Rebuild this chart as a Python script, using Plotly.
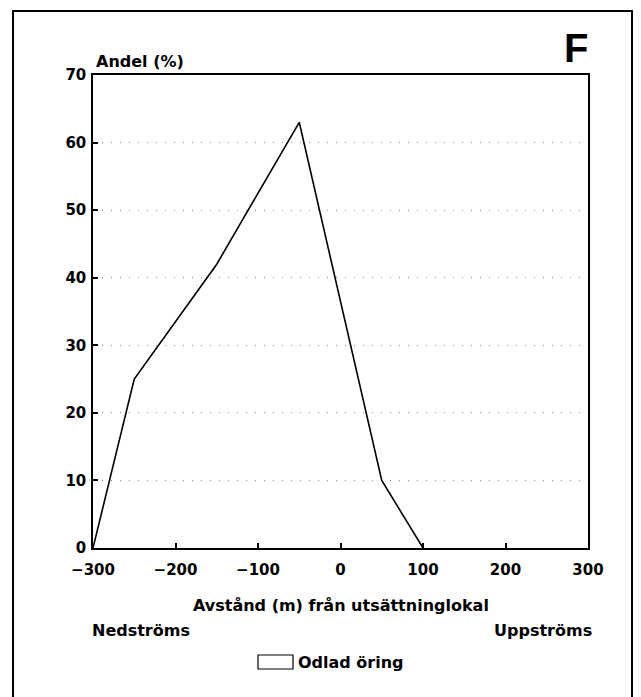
import plotly.graph_objects as go

distance = [-300, -250, -150, -50, 50, 100]
share = [0, 25, 42, 63, 10, 0]
x_ticks = [-300, -200, -100, 0, 100, 200, 300]
y_ticks = [0, 10, 20, 30, 40, 50, 60, 70]
series_name = "Odlad öring"

FONT = "DejaVu Sans"
PL, PR, PT, PB = 93, 588, 75, 548
PW, PH = PR - PL, PB - PT


def px(xpix):
    return (xpix - PL) / PW


def py(ypix):
    return (PB - ypix) / PH


fig = go.Figure()
fig.add_trace(go.Scatter(
    x=distance, y=share, mode="lines",
    line=dict(color="black", width=1.6),
    name=series_name, showlegend=False,
))

axis_common = dict(
    showline=True, linecolor="black", linewidth=1.5, mirror=True,
    ticks="inside", ticklen=5, tickwidth=1.5, tickcolor="black",
    tickfont=dict(family=FONT, size=15, color="black", weight="bold"),
    zeroline=False,
)

fig.update_xaxes(
    range=[-300, 300], tickvals=x_ticks,
    ticktext=[str(v).replace("-", "\u2212") for v in x_ticks],
    showgrid=False, ticklabelstandoff=7, **axis_common,
)
fig.update_yaxes(
    range=[0, 70], tickvals=y_ticks,
    showgrid=True, gridcolor="#888", gridwidth=1, griddash="1px,8px",
    ticklabelstandoff=2,
    **axis_common,
)

bold = dict(family=FONT, size=16, color="black", weight="bold")

fig.add_annotation(text="Andel (%)", xref="paper", yref="paper", x=px(94), y=py(62),
                   xanchor="left", yanchor="middle", showarrow=False, font=bold)
fig.add_annotation(text="F", xref="paper", yref="paper", x=px(590), y=py(48),
                   xanchor="right", yanchor="middle", showarrow=False,
                   font=dict(family="Liberation Sans", size=40, color="black", weight="bold"))
fig.add_annotation(text="Avstånd (m) från utsättninglokal", xref="paper", yref="paper",
                   x=0.5, y=py(605), xanchor="center", yanchor="middle",
                   showarrow=False, font=bold)
fig.add_annotation(text="Nedströms", xref="paper", yref="paper",
                   x=px(90), y=py(630), xanchor="left", yanchor="middle",
                   showarrow=False, font=bold)
fig.add_annotation(text="Uppströms", xref="paper", yref="paper",
                   x=px(594), y=py(630), xanchor="right", yanchor="middle",
                   showarrow=False, font=bold)
# legend
fig.add_annotation(text=series_name, xref="paper", yref="paper",
                   x=px(296), y=py(662), xanchor="left", yanchor="middle",
                   showarrow=False, font=bold)
fig.add_shape(type="rect", xref="paper", yref="paper",
              x0=px(258), x1=px(293), y0=py(669), y1=py(655),
              line=dict(color="black", width=1.2), fillcolor="white")
# outer frame
fig.add_shape(type="rect", xref="paper", yref="paper",
              x0=px(13), x1=px(632), y0=py(720), y1=py(11),
              line=dict(color="black", width=2), fillcolor="rgba(0,0,0,0)")

fig.update_layout(
    width=641, height=697,
    margin=dict(l=PL, r=641 - PR, t=PT, b=697 - PB),
    paper_bgcolor="white", plot_bgcolor="white",
    showlegend=False,
)

fig.write_html("out.html")
